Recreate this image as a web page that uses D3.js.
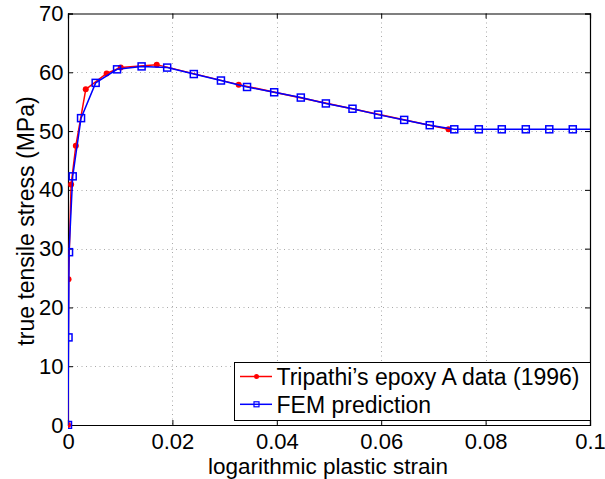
<!DOCTYPE html>
<meta charset="utf-8">
<style>
body{ margin:0; background:#fff; }
svg text{ font-family: "Liberation Sans", Arial, sans-serif; fill:#000; }
</style>
<body>
<script src="https://d3js.org/d3.v7.min.js"></script>
<script>
// Tripathi's epoxy A data (1996)
const expStrain = [0, 0.0001, 0.0006, 0.0015, 0.0034, 0.0074, 0.0101, 0.0170, 0.0327, 0.0729];
const expStress = [0, 24.8, 40.9, 47.5, 57.1, 59.8, 60.8, 61.3, 57.9, 50.3];
// FEM prediction
const femStrain = [0, 0.0001, 0.0002, 0.0009, 0.0025, 0.0053, 0.0094, 0.0141, 0.0190, 0.0241, 0.0293, 0.0343, 0.0395, 0.0446, 0.0494, 0.0545, 0.0594, 0.0644, 0.0693, 0.0740, 0.0787, 0.0831, 0.0877, 0.0922, 0.0967, 0.1013];
const femStress = [0, 14.9, 29.4, 42.3, 52.2, 58.2, 60.5, 61.0, 60.8, 59.7, 58.6, 57.5, 56.6, 55.7, 54.7, 53.8, 52.8, 51.9, 51.0, 50.3, 50.3, 50.3, 50.3, 50.3, 50.3, 50.3];
const xTicks = [0, 0.02, 0.04, 0.06, 0.08, 0.1];
const yTicks = [0, 10, 20, 30, 40, 50, 60, 70];
const legendLabels = ["Tripathi\u2019s epoxy A data (1996)", "FEM prediction"];

const width = 605, height = 479;
const mL = 68, mR = 590, mT = 13.5, mB = 425;
const fs = "23px";

const svg = d3.select("body").append("svg")
    .attr("width", width).attr("height", height);

const x = d3.scaleLinear().domain([0, 0.1]).range([mL, mR]);
const y = d3.scaleLinear().domain([0, 70]).range([mB, mT]);

svg.append("defs").append("clipPath").attr("id", "clip")
  .append("rect").attr("x", mL).attr("y", mT - 4)
  .attr("width", mR - mL).attr("height", mB - mT + 8);

// grid
const grid = svg.append("g").attr("stroke", "#aaa").attr("stroke-width", 1)
    .attr("stroke-dasharray", "1,3.5");
grid.selectAll(".gx").data(xTicks.slice(1, -1)).join("line")
    .attr("x1", d => Math.round(x(d)) + 0.5).attr("x2", d => Math.round(x(d)) + 0.5)
    .attr("y1", mT).attr("y2", mB);
grid.selectAll(".gy").data(yTicks.slice(1, -1)).join("line")
    .attr("y1", d => Math.round(y(d)) + 0.5).attr("y2", d => Math.round(y(d)) + 0.5)
    .attr("x1", mL).attr("x2", mR);

// axes (ticks inward, box)
const fmtX = d => d === 0 ? "0" : String(+d.toFixed(2));
svg.append("g").attr("transform", `translate(0,${mB})`)
    .call(d3.axisBottom(x).tickValues(xTicks).tickSize(-5).tickPadding(7.9).tickFormat(fmtX));
svg.append("g").attr("transform", `translate(0,${mT})`)
    .call(d3.axisTop(x).tickValues(xTicks).tickSize(-5).tickFormat(""));
svg.append("g").attr("transform", `translate(${mL},0)`)
    .call(d3.axisLeft(y).tickValues(yTicks).tickSize(-5).tickPadding(4.5));
svg.append("g").attr("transform", `translate(${mR},0)`)
    .call(d3.axisRight(y).tickValues(yTicks).tickSize(-5).tickFormat(""));
svg.selectAll(".domain").attr("stroke", "#000").attr("stroke-width", 1.2);
svg.selectAll(".tick line").attr("stroke", "#000");
svg.selectAll(".tick text").style("font-size", "22px").attr("fill", "#000");

// data
const expData = expStrain.map((d, i) => [d, expStress[i]]);
const femData = femStrain.map((d, i) => [d, femStress[i]]);
const line = d3.line().x(d => x(d[0])).y(d => y(d[1]));
const plot = svg.append("g").attr("clip-path", "url(#clip)");

plot.append("path").datum(expData).attr("d", line)
    .attr("fill", "none").attr("stroke", "#ff0000").attr("stroke-width", 1.5);
plot.selectAll(".dot").data(expData).join("circle")
    .attr("cx", d => x(d[0])).attr("cy", d => y(d[1])).attr("r", 3)
    .attr("fill", "#ff0000");

plot.append("path").datum(femData).attr("d", line)
    .attr("fill", "none").attr("stroke", "#0000ff").attr("stroke-width", 1.5);
plot.selectAll(".sq").data(femData).join("rect")
    .attr("x", d => x(d[0]) - 3.5).attr("y", d => y(d[1]) - 3.5)
    .attr("width", 7).attr("height", 7)
    .attr("fill", "none").attr("stroke", "#0000ff").attr("stroke-width", 1.5);

// legend
const lg = svg.append("g");
lg.append("rect").attr("x", 234.5).attr("y", 362.5).attr("width", 356).attr("height", 58)
    .attr("fill", "#fff").attr("stroke", "#000").attr("stroke-width", 1);
const colors = ["#ff0000", "#0000ff"];
legendLabels.forEach((t, i) => {
  const cy = 376.5 + i * 27.8;
  lg.append("line").attr("x1", 240).attr("x2", 272).attr("y1", cy).attr("y2", cy)
    .attr("stroke", colors[i]).attr("stroke-width", 1.5);
  if (i === 0) {
    lg.append("circle").attr("cx", 256.5).attr("cy", cy).attr("r", 2.5).attr("fill", colors[i]);
  } else {
    lg.append("rect").attr("x", 254).attr("y", cy - 2.5).attr("width", 5).attr("height", 5)
      .attr("fill", "none").attr("stroke", colors[i]).attr("stroke-width", 1.2);
  }
  lg.append("text").attr("x", 276.5).attr("y", cy + 8.5).style("font-size", fs).text(t);
});

// axis labels
svg.append("text").attr("x", 328).attr("y", 474).attr("text-anchor", "middle")
    .style("font-size", "22.5px").text("logarithmic plastic strain");
svg.append("text").attr("transform", "translate(34,221) rotate(-90)")
    .attr("text-anchor", "middle").style("font-size", fs).text("true tensile stress (MPa)");
</script>
</body>
</html>
